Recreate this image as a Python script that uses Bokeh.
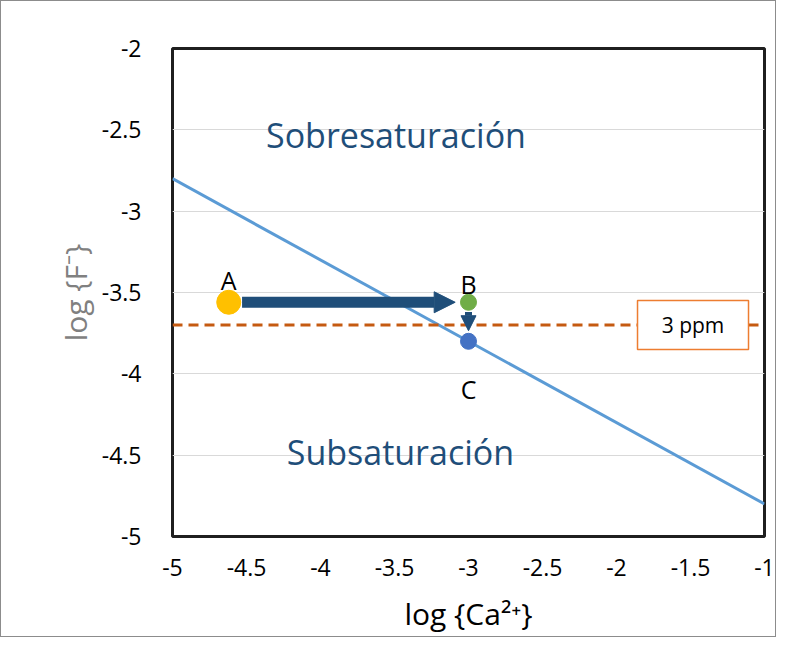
from bokeh.plotting import figure
from bokeh.models import Arrow, NormalHead, FixedTicker, Range1d, NumeralTickFormatter
from bokeh.embed import file_html
from bokeh.resources import INLINE
from bokeh.core.properties import value

# ---- data ----
line_x = [-5.0, -1.0]
line_y = [-2.8, -4.8]
point_names = ["A", "B", "C"]
point_x = [-4.62, -3.0, -3.0]
point_y = [-3.56, -3.56, -3.80]
point_colors = ["#FFC000", "#70AD47", "#4472C4"]
limit_x = [-5.0, -1.0]
limit_y = -3.70
limit_label = "3 ppm"
limit_label_x = -1.483
region_labels = ["Sobresaturación", "Subsaturación"]
region_x = [-3.49, -3.46]
region_y = [-2.53, -4.48]
x_ticks = [-5, -4.5, -4, -3.5, -3, -2.5, -2, -1.5, -1]
y_ticks = [-5, -4.5, -4, -3.5, -3, -2.5, -2]

FONT = "Open Sans"

p = figure(width=776, height=637, output_backend="svg", toolbar_location=None,
           x_range=Range1d(-5, -1), y_range=Range1d(-5, -2),
           min_border_left=171, min_border_right=13, min_border_top=47, min_border_bottom=102)
p.styles = {"border": "1px solid #8c8c8c"}
p.background_fill_color = "white"
p.border_fill_color = "white"
p.outline_line_color = "#1f1f1f"
p.outline_line_width = 3

p.xgrid.grid_line_color = None
p.ygrid.grid_line_color = "#D9D9D9"
p.ygrid.grid_line_width = 1

for ax in (p.xaxis[0], p.yaxis[0]):
    ax.axis_line_color = None
    ax.major_tick_line_color = None
    ax.minor_tick_line_color = None
    ax.major_label_text_font = FONT
    ax.major_label_text_font_size = "23px"
    ax.major_label_text_color = "black"
    ax.formatter = NumeralTickFormatter(format="0.[0]")
    ax.axis_label_text_font = FONT
    ax.axis_label_text_font_size = "30px"
    ax.axis_label_text_font_style = "normal"

p.xaxis.ticker = FixedTicker(ticks=x_ticks)
p.yaxis.ticker = FixedTicker(ticks=y_ticks)
p.xaxis.major_label_standoff = 16
p.yaxis.major_label_standoff = 25
p.xaxis.axis_label = "log {Ca²⁺}"
p.yaxis.axis_label = "log {F⁻}"
p.xaxis.axis_label_text_color = "black"
p.yaxis.axis_label_text_color = "#808080"
p.xaxis.axis_label_standoff = 14
p.yaxis.axis_label_standoff = 3

# saturation line
p.line(line_x, line_y, line_color="#5B9BD5", line_width=3)

# 3 ppm limit (dashed) with its label box on top
p.line(limit_x, [limit_y, limit_y], line_color="#C55A11", line_dash="10 6", line_width=3)
p.rect(x=[limit_label_x], y=[limit_y], width=111, height=49, width_units="screen", height_units="screen",
       fill_color="white", line_color="#ED7D31", line_width=1.5)
p.text(x=[limit_label_x], y=[limit_y], text=[limit_label], text_align="center", text_baseline="middle",
       text_font=value(FONT), text_font_size="21px", text_color="black")

# arrows
ax_, ay_ = point_x[0], point_y[0]
bx_, by_ = point_x[1], point_y[1]
p.add_layout(Arrow(x_start=ax_ + 0.09, y_start=ay_, x_end=bx_ - 0.09, y_end=by_,
                   line_color="#1F4E79", line_width=11,
                   end=NormalHead(size=21, fill_color="#1F4E79", line_color="#1F4E79")))
p.add_layout(Arrow(x_start=bx_, y_start=by_ - 0.06, x_end=bx_, y_end=by_ - 0.175,
                   line_color="#1F4E79", line_width=7,
                   end=NormalHead(size=15, fill_color="#1F4E79", line_color="#1F4E79")))

# points
p.scatter(point_x, point_y, size=[24, 16, 16], fill_color=point_colors, line_color=point_colors)

# point labels
p.text(x=point_x, y=point_y, text=point_names, text_align="center", text_baseline="alphabetic",
       y_offset=[-22, -18, 48], text_font=value(FONT), text_font_size="25px", text_color="black")

# region labels
p.text(x=region_x, y=region_y, text=region_labels, text_align="center", text_baseline="middle",
       text_font=value(FONT), text_font_size="34px", text_color="#1F4E79")

open("out.html", "w").write(file_html(p, INLINE))
